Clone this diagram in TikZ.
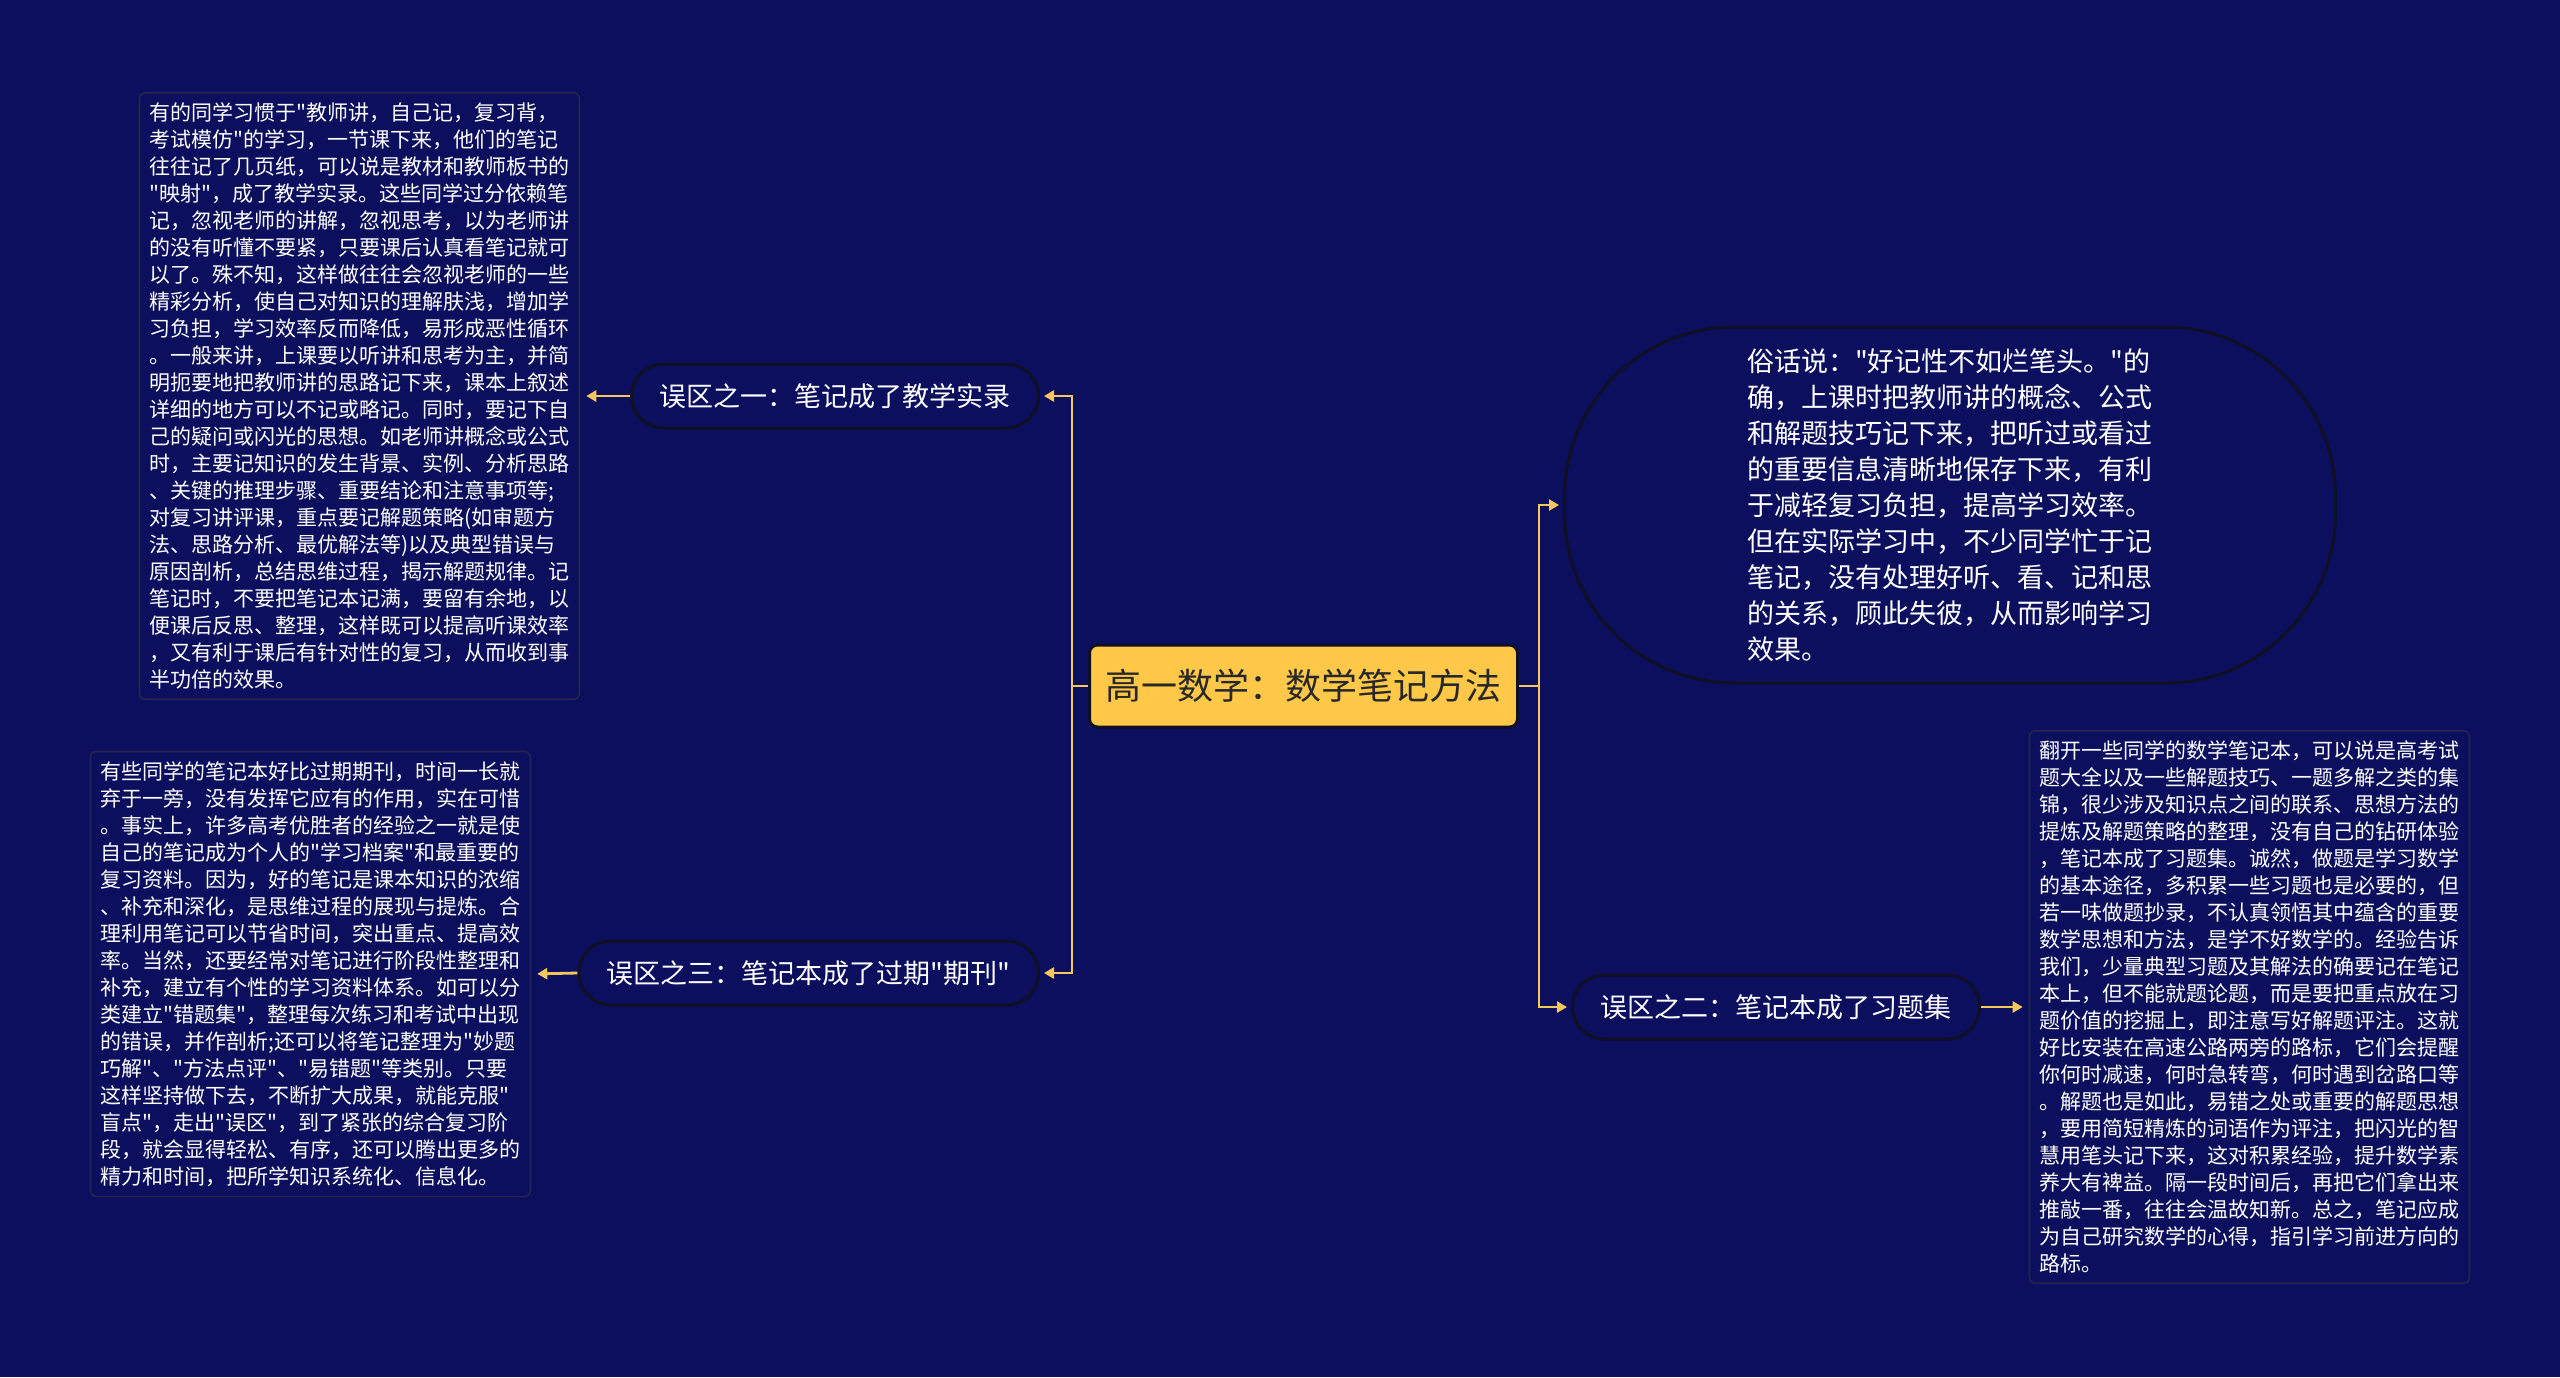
\documentclass[tikz,border=0pt]{standalone}
\usepackage{fontspec}
\setmainfont{Noto Sans CJK SC}[Ligatures=TeXOff]
\usetikzlibrary{arrows.meta}
\definecolor{pagenavy}{RGB}{11,15,93}
\definecolor{edgedark}{RGB}{16,16,36}
\definecolor{boxedge}{RGB}{36,38,78}
\definecolor{topicgold}{RGB}{255,200,72}
\definecolor{topicink}{RGB}{40,40,40}
\definecolor{linkgold}{RGB}{246,200,92}

\begin{document}
\begin{tikzpicture}[x=0.5pt, y=-0.5pt, >={Triangle[length=5pt, width=5.5pt]},
  every node/.style={text=white},
  topicbox/.style={draw=edgedark, line width=1.5pt, fill=topicgold, text=topicink, rounded corners=4pt, minimum height=41pt, inner xsep=8pt, font=\fontsize{18pt}{22pt}\selectfont},
  mythbox/.style={draw=edgedark, line width=1.5pt, fill=pagenavy, rounded corners=16pt, minimum height=32pt, inner xsep=14pt, font=\fontsize{13.5pt}{18pt}\selectfont},
  introbox/.style={draw=edgedark, line width=1.5pt, fill=pagenavy, rounded corners=85pt, minimum width=385.5pt, minimum height=178pt, text width=203pt, align=left, font=\fontsize{13.5pt}{18pt}\selectfont},
  notebox/.style={draw=boxedge, line width=0.8pt, rounded corners=3pt, text width=210pt, align=left, inner xsep=5pt, inner ysep=5pt, font=\fontsize{10.5pt}{13.5pt}\selectfont},
  link/.style={->, draw=linkgold, line width=1.4pt}]
  \fill[pagenavy] (0,0) rectangle (2560,1377);

  \node[topicbox] (topic) at (1303.5,686) {高一数学：数学笔记方法};

  \node[mythbox, anchor=east] (myth1) at (1040,396) {误区之一：笔记成了教学实录};
  \node[mythbox, anchor=east] (myth3) at (1040,973) {误区之三：笔记本成了过期"期刊"};
  \node[mythbox, anchor=west] (myth2) at (1571,1007) {误区之二：笔记本成了习题集};

  \node[introbox] (intro) at (1950,505) {俗话说："好记性不如烂笔头。"的\\确，上课时把教师讲的概念、公式\\和解题技巧记下来，把听过或看过\\的重要信息清晰地保存下来，有利\\于减轻复习负担，提高学习效率。\\但在实际学习中，不少同学忙于记\\笔记，没有处理好听、看、记和思\\的关系，顾此失彼，从而影响学习\\效果。};

  \node[notebox] (note1) at (359.5,396) {有的同学习惯于"教师讲，自己记，复习背，\\考试模仿"的学习，一节课下来，他们的笔记\\往往记了几页纸，可以说是教材和教师板书的\\"映射"，成了教学实录。这些同学过分依赖笔\\记，忽视老师的讲解，忽视思考，以为老师讲\\的没有听懂不要紧，只要课后认真看笔记就可\\以了。殊不知，这样做往往会忽视老师的一些\\精彩分析，使自己对知识的理解肤浅，增加学\\习负担，学习效率反而降低，易形成恶性循环\\。一般来讲，上课要以听讲和思考为主，并简\\明扼要地把教师讲的思路记下来，课本上叙述\\详细的地方可以不记或略记。同时，要记下自\\己的疑问或闪光的思想。如老师讲概念或公式\\时，主要记知识的发生背景、实例、分析思路\\、关键的推理步骤、重要结论和注意事项等;\\对复习讲评课，重点要记解题策略(如审题方\\法、思路分析、最优解法等)以及典型错误与\\原因剖析，总结思维过程，揭示解题规律。记\\笔记时，不要把笔记本记满，要留有余地，以\\便课后反思、整理，这样既可以提高听课效率\\，又有利于课后有针对性的复习，从而收到事\\半功倍的效果。};

  \node[notebox] (note3) at (310.5,974) {有些同学的笔记本好比过期期刊，时间一长就\\弃于一旁，没有发挥它应有的作用，实在可惜\\。事实上，许多高考优胜者的经验之一就是使\\自己的笔记成为个人的"学习档案"和最重要的\\复习资料。因为，好的笔记是课本知识的浓缩\\、补充和深化，是思维过程的展现与提炼。合\\理利用笔记可以节省时间，突出重点、提高效\\率。当然，还要经常对笔记进行阶段性整理和\\补充，建立有个性的学习资料体系。如可以分\\类建立"错题集"，整理每次练习和考试中出现\\的错误，并作剖析;还可以将笔记整理为"妙题\\巧解"、"方法点评"、"易错题"等类别。只要\\这样坚持做下去，不断扩大成果，就能克服"\\盲点"，走出"误区"，到了紧张的综合复习阶\\段，就会显得轻松、有序，还可以腾出更多的\\精力和时间，把所学知识系统化、信息化。};

  \node[notebox] (note2) at (2249.5,1007) {翻开一些同学的数学笔记本，可以说是高考试\\题大全以及一些解题技巧、一题多解之类的集\\锦，很少涉及知识点之间的联系、思想方法的\\提炼及解题策略的整理，没有自己的钻研体验\\，笔记本成了习题集。诚然，做题是学习数学\\的基本途径，多积累一些习题也是必要的，但\\若一味做题抄录，不认真领悟其中蕴含的重要\\数学思想和方法，是学不好数学的。经验告诉\\我们，少量典型习题及其解法的确要记在笔记\\本上，但不能就题论题，而是要把重点放在习\\题价值的挖掘上，即注意写好解题评注。这就\\好比安装在高速公路两旁的路标，它们会提醒\\你何时减速，何时急转弯，何时遇到岔路口等\\。解题也是如此，易错之处或重要的解题思想\\，要用简短精炼的词语作为评注，把闪光的智\\慧用笔头记下来，这对积累经验，提升数学素\\养大有裨益。隔一段时间后，再把它们拿出来\\推敲一番，往往会温故知新。总之，笔记应成\\为自己研究数学的心得，指引学习前进方向的\\路标。};

  % trunk to the four branches
  \draw[link, shorten >=2pt] (topic.west) -- ++(-16,0) |- (myth1.east);
  \draw[link, shorten >=2pt] (topic.west) -- ++(-16,0) |- (myth3.east);
  \draw[link, shorten >=2pt] (topic.east) -- ++(20,0) |- (intro.west);
  \draw[link, shorten >=2pt] (topic.east) -- ++(20,0) |- (myth2.west);
  % branches to their notes
  \draw[link, shorten >=3pt] (myth1.west) -- (note1.east);
  \draw[link, shorten >=3pt] (myth3.west) -- (note3.east);
  \draw[link, shorten >=3pt] (myth2.east) -- (note2.west);
\end{tikzpicture}
\end{document}
